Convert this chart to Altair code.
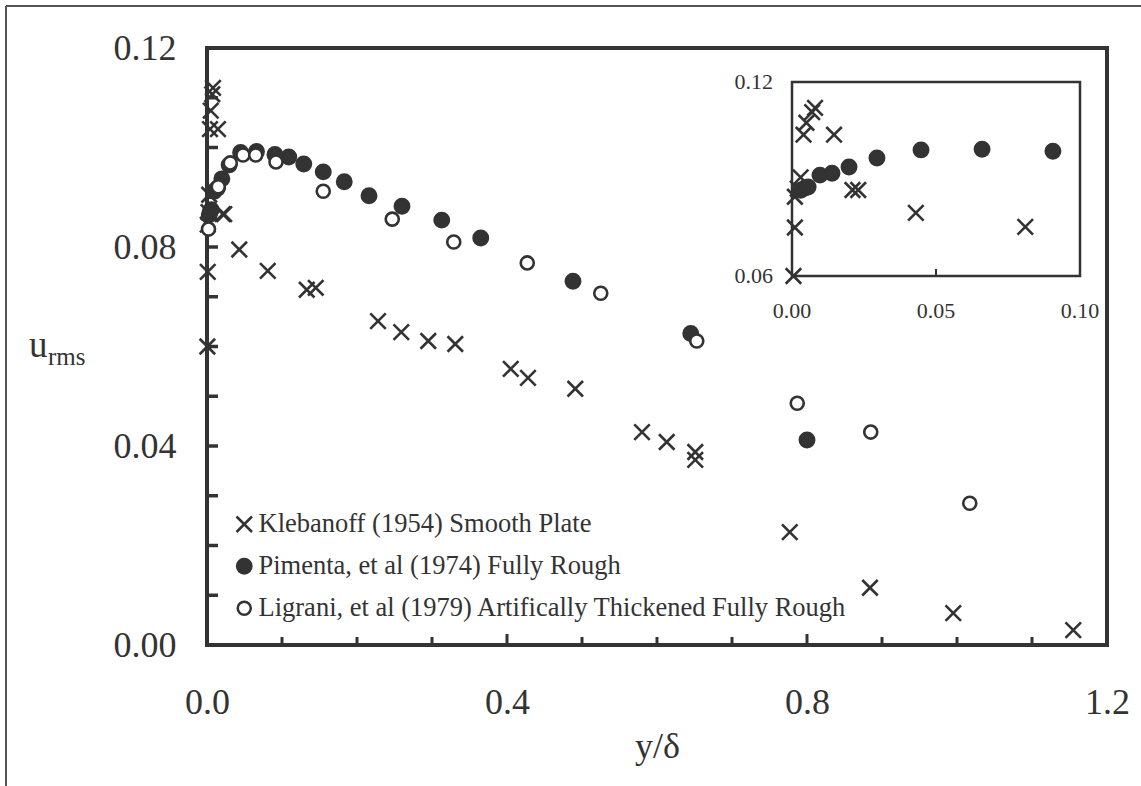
import altair as alt
import pandas as pd

# ---- data ----
series_names = ["Klebanoff (1954) Smooth Plate",
                "Pimenta, et al (1974) Fully Rough",
                "Ligrani, et al (1979) Artifically Thickened Fully Rough"]

kleb_x = [0.0005, 0.001, 0.001, 0.002, 0.003, 0.004, 0.005, 0.007, 0.008, 0.0146, 0.021, 0.023,
          0.043, 0.081, 0.133, 0.145, 0.228, 0.259, 0.295, 0.331, 0.405, 0.428, 0.491, 0.580,
          0.613, 0.651, 0.651, 0.777, 0.884, 0.995, 1.155]
kleb_y = [0.060, 0.075, 0.0845, 0.087, 0.0905, 0.1037, 0.1074, 0.1107, 0.112, 0.1037, 0.0866, 0.0866,
          0.0795, 0.0752, 0.0714, 0.0718, 0.0651, 0.0629, 0.0611, 0.0605, 0.0555, 0.0537, 0.0515, 0.0428,
          0.0408, 0.0388, 0.0372, 0.0227, 0.0115, 0.0064, 0.003]

pim_x = [0.003, 0.0045, 0.0056, 0.0097, 0.0139, 0.0198, 0.0295, 0.0448, 0.066, 0.0906, 0.109, 0.129,
         0.155, 0.183, 0.216, 0.26, 0.313, 0.365, 0.488, 0.645, 0.80]
pim_y = [0.0865, 0.0872, 0.0875, 0.0912, 0.0918, 0.0937, 0.0965, 0.099, 0.0992, 0.0986, 0.0981, 0.0967,
         0.0951, 0.0931, 0.0903, 0.0882, 0.0854, 0.0818, 0.0731, 0.0626, 0.0412]

lig_x = [0.002, 0.015, 0.031, 0.048, 0.065, 0.092, 0.155, 0.247, 0.329, 0.427, 0.525, 0.653,
         0.787, 0.885, 1.017]
lig_y = [0.0836, 0.0921, 0.0969, 0.0985, 0.0985, 0.0971, 0.0912, 0.0856, 0.081, 0.0768, 0.0707, 0.0611,
         0.0486, 0.0428, 0.0285]

main_x_labels = [0.0, 0.4, 0.8, 1.2]
main_y_labels = [0.0, 0.04, 0.08, 0.12]
x_minor_ticks = [0.1, 0.2, 0.3, 0.5, 0.6, 0.7, 0.9, 1.0, 1.1]
x_major_ticks = [0.4, 0.8]
y_ticks = [0.01, 0.02, 0.03, 0.04, 0.05, 0.06, 0.07, 0.08, 0.09, 0.10, 0.11]

inset_x_domain = [0.0, 0.10]
inset_y_domain = [0.06, 0.12]
inset_x_ticks = [0.0, 0.05, 0.10]
inset_x_tick_text = ["0.00", "0.05", "0.10"]
inset_y_ticks = [0.06, 0.12]
inset_y_tick_text = ["0.06", "0.12"]

# ---- tables ----
df = pd.concat([
    pd.DataFrame({"x": kleb_x, "y": kleb_y, "series": series_names[0]}),
    pd.DataFrame({"x": pim_x, "y": pim_y, "series": series_names[1]}),
    pd.DataFrame({"x": lig_x, "y": lig_y, "series": series_names[2]}),
], ignore_index=True)

FONT = "Liberation Serif"
INK = "#333333"
W, H = 900, 597
cross_path = "M-1,-1L1,1M-1,1L1,-1"

leg = alt.Legend(title=None, orient="none", legendX=24, legendY=463, labelFont=FONT,
                 labelFontSize=26.5, labelColor=INK, rowPadding=15, labelOffset=1, padding=0,
                 symbolStrokeWidth=2.5, labelLimit=800)

xs = alt.Scale(domain=[0, 1.2], nice=False, zero=False)
ys = alt.Scale(domain=[0, 0.12], nice=False, zero=False)

shape_enc = alt.Shape("series:N", scale=alt.Scale(domain=series_names, range=[cross_path, "circle", "circle"]), legend=leg)
fill_enc = alt.Fill("series:N", scale=alt.Scale(domain=series_names, range=["transparent", INK, "white"]), legend=leg)
stroke_enc = alt.Stroke("series:N", scale=alt.Scale(domain=series_names, range=[INK, INK, INK]), legend=leg)
size_enc = alt.Size("series:N", scale=alt.Scale(domain=series_names, range=[240, 170, 110]), legend=leg)

points = alt.Chart(df).mark_point(strokeWidth=2.6, opacity=1).encode(
    x=alt.X("x:Q", scale=xs, axis=alt.Axis(values=main_x_labels, format=".1f", title="y/δ",
                                          labelPadding=40, titlePadding=9, labelFlush=False)),
    y=alt.Y("y:Q", scale=ys, axis=alt.Axis(values=main_y_labels, format=".2f", title=None,
                                          labelPadding=31, labelFlush=False)),
    shape=shape_enc, fill=fill_enc, stroke=stroke_enc, size=size_enc,
)

yt = alt.Chart(pd.DataFrame({"v": y_ticks})).mark_rule(color=INK, strokeWidth=3.5).encode(
    y=alt.Y("v:Q", scale=ys), x=alt.value(0), x2=alt.value(11))
xt_minor = alt.Chart(pd.DataFrame({"v": x_minor_ticks})).mark_rule(color=INK, strokeWidth=3).encode(
    x=alt.X("v:Q", scale=xs), y=alt.value(H), y2=alt.value(H - 8))
xt_major = alt.Chart(pd.DataFrame({"v": x_major_ticks})).mark_rule(color=INK, strokeWidth=3).encode(
    x=alt.X("v:Q", scale=xs), y=alt.value(H), y2=alt.value(H - 11))

u_txt = alt.Chart(pd.DataFrame({"t": ["u"]})).mark_text(
    font=FONT, fontSize=37, color=INK, align="left", baseline="alphabetic").encode(
    x=alt.value(29 - 207), y=alt.value(357 - 48), text="t:N")
rms_txt = alt.Chart(pd.DataFrame({"t": ["rms"]})).mark_text(
    font=FONT, fontSize=25, color=INK, align="left", baseline="alphabetic").encode(
    x=alt.value(48 - 207), y=alt.value(365 - 48), text="t:N")

border_top = alt.Chart(pd.DataFrame({"a": [0]})).mark_rule(color="#555555", strokeWidth=2).encode(
    x=alt.value(6 - 207), x2=alt.value(1141 - 207), y=alt.value(6 - 48))
border_left = alt.Chart(pd.DataFrame({"a": [0]})).mark_rule(color="#555555", strokeWidth=2).encode(
    x=alt.value(6 - 207), y=alt.value(6 - 48), y2=alt.value(786 - 48))

main = alt.layer(points, yt, xt_minor, xt_major, u_txt, rms_txt, border_top, border_left)

# ---- inset ----
ixs = alt.Scale(domain=inset_x_domain, range=[792 - 207, 1080 - 207], nice=False, zero=False)
iys = alt.Scale(domain=inset_y_domain, range=[276 - 48, 82 - 48], nice=False, zero=False)

frame = alt.Chart(pd.DataFrame({"x0": [inset_x_domain[0]], "x1": [inset_x_domain[1]],
                                "y0": [inset_y_domain[0]], "y1": [inset_y_domain[1]]})).mark_rect(
    fill="white", stroke=INK, strokeWidth=2.5).encode(
    x=alt.X("x0:Q", scale=ixs, axis=None), x2="x1:Q",
    y=alt.Y("y0:Q", scale=iys, axis=None), y2="y1:Q")

inset_pts = alt.Chart(df).transform_filter(
    (alt.datum.x <= inset_x_domain[1]) & (alt.datum.y >= inset_y_domain[0]) &
    (alt.datum.series != series_names[2])
).mark_point(strokeWidth=2.6, opacity=1).encode(
    x=alt.X("x:Q", scale=ixs, axis=None),
    y=alt.Y("y:Q", scale=iys, axis=None),
    shape=shape_enc, fill=fill_enc, stroke=stroke_enc, size=size_enc,
)

inset_tick = alt.Chart(pd.DataFrame({"v": [0.05]})).mark_rule(color=INK, strokeWidth=2).encode(
    x=alt.X("v:Q", scale=ixs, axis=None), y=alt.value(276 - 48), y2=alt.value(276 - 48 - 7))

ixl = alt.Chart(pd.DataFrame({"v": inset_x_ticks, "t": inset_x_tick_text,
                              "yy": [inset_y_domain[0]] * 3})).mark_text(
    font=FONT, fontSize=22, color=INK, align="center", baseline="middle", dy=35).encode(
    x=alt.X("v:Q", scale=ixs, axis=None), y=alt.Y("yy:Q", scale=iys, axis=None), text="t:N")
iyl = alt.Chart(pd.DataFrame({"v": inset_y_ticks, "t": inset_y_tick_text,
                              "xx": [inset_x_domain[0]] * 2})).mark_text(
    font=FONT, fontSize=22, color=INK, align="right", baseline="middle", dx=-19).encode(
    x=alt.X("xx:Q", scale=ixs, axis=None), y=alt.Y("v:Q", scale=iys, axis=None), text="t:N")

inset = alt.layer(frame, inset_pts, inset_tick, ixl, iyl)

chart = alt.layer(main, inset).resolve_scale(x="independent", y="independent").properties(
    width=W, height=H,
    autosize=alt.AutoSizeParams(type="none"),
    padding={"left": 207, "top": 48, "right": 34, "bottom": 141},
    background="white",
).configure_view(stroke=INK, strokeWidth=4).configure_axis(
    domain=False, ticks=False, grid=False, labelFont=FONT, labelFontSize=36, labelColor=INK,
    titleFont=FONT, titleFontSize=36, titleFontWeight="normal", titleColor=INK,
)

chart.save("out.html", embed_options={"renderer": "svg", "actions": False})
